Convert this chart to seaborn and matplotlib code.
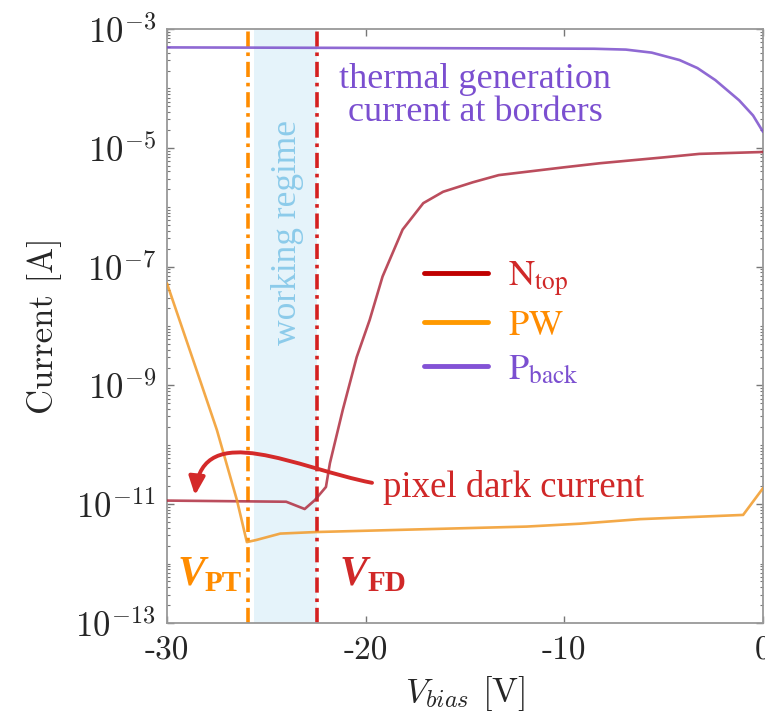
import numpy as np
import pandas as pd
import matplotlib
matplotlib.use("Agg")
import matplotlib.pyplot as plt
import seaborn as sns
from matplotlib.lines import Line2D
from matplotlib.patches import FancyArrowPatch
from matplotlib.path import Path
from matplotlib.ticker import LogLocator, NullFormatter, FixedLocator
from matplotlib.font_manager import FontProperties

# ---- I-V curves of the three contacts ----
v_ntop = [-30, -24.0, -23.07, -22.56, -22.0, -21.8, -21.15, -20.45, -19.8, -19.15,
          -18.14, -17.1, -16.1, -14.6, -13.3, -10, -8.2, -5, -3.2, 0]
i_ntop = [1.15e-11, 1.10e-11, 8.3e-12, 1.17e-11, 1.95e-11, 4.9e-11, 3.9e-10, 3.0e-9,
          1.26e-8, 6.8e-8, 4.2e-7, 1.17e-6, 1.82e-6, 2.63e-6, 3.47e-6, 4.7e-6,
          5.5e-6, 6.9e-6, 7.9e-6, 8.5e-6]

v_pw = [-30, -28.34, -27.49, -26.48, -25.98, -25.5, -24.3, -22.5, -11.9, -9.2, -6.2, -1.0, 0]
i_pw = [5.2e-8, 1.23e-9, 1.78e-10, 1.17e-11, 2.3e-12, 2.5e-12, 3.2e-12, 3.4e-12,
        4.2e-12, 4.7e-12, 5.6e-12, 6.6e-12, 1.86e-11]

v_pback = [-30, -20, -12, -8.5, -6.9, -5.6, -4.2, -3.3, -2.4, -1.2, -0.5, 0]
i_pback = [4.9e-4, 4.8e-4, 4.7e-4, 4.65e-4, 4.5e-4, 4.0e-4, 3.0e-4, 2.2e-4, 1.38e-4,
           6.3e-5, 3.5e-5, 1.86e-5]

series_names = ["N$_{top}$", "PW", "P$_{back}$"]
legend_labels = [r"$\mathrm{N}_{\mathrm{top}}$", r"$\mathrm{PW}$", r"$\mathrm{P}_{\mathrm{back}}$"]
line_colors = ["#B02E40", "#F29A28", "#7B4FCC"]
legend_colors = ["#C00000", "#FF9900", "#8352D6"]
text_colors = ["#D02828", "#FF8C00", "#7B4FD0"]

v_punch_through = -25.9
v_full_depletion = -22.45
regime = (-25.6, -22.45)

x_ticks = [-30, -20, -10, 0]
x_ticklabels = ["-30", "-20", "-10", "0"]
y_exponents = [-3, -5, -7, -9, -11, -13]

df = pd.concat([
    pd.DataFrame({"V": v_ntop, "I": i_ntop, "contact": series_names[0]}),
    pd.DataFrame({"V": v_pw, "I": i_pw, "contact": series_names[1]}),
    pd.DataFrame({"V": v_pback, "I": i_pback, "contact": series_names[2]}),
])

sns.set_theme(style="ticks")
plt.rcParams["mathtext.fontset"] = "cm"
plt.rcParams["axes.unicode_minus"] = False

fig = plt.figure(figsize=(7.65, 7.18), dpi=100)
ax = fig.add_axes([167 / 765, 1 - 623 / 718, 596 / 765, 594 / 718])

ax.axvspan(regime[0], regime[1], color="#E5F3FA", zorder=0, lw=0)

sns.lineplot(data=df, x="V", y="I", hue="contact", palette=dict(zip(series_names, line_colors)),
             sort=False, estimator=None, lw=1.9, alpha=0.85, legend=False, ax=ax, zorder=3)

ax.axvline(v_punch_through, color="#FF8C00", lw=2.6, ls=(0, (4.2, 1.6, 1.0, 1.6)), zorder=2)
ax.axvline(v_full_depletion, color="#D42020", lw=2.6, ls=(0, (4.2, 1.6, 1.0, 1.6)), zorder=2)

ax.set_yscale("log")
ax.set_xlim(-30, 0)
ax.set_ylim(1e-13, 1e-3)

ax.set_xticks(x_ticks)
ax.set_xticklabels(x_ticklabels, fontfamily="cmr10", fontsize=24)
ax.yaxis.set_major_locator(FixedLocator([10.0 ** e for e in y_exponents]))
ax.set_yticklabels([rf"$10^{{{e}}}$" for e in y_exponents], fontsize=25)
ax.yaxis.set_minor_locator(LogLocator(base=10, subs=np.arange(1, 10), numticks=100))
ax.yaxis.set_minor_formatter(NullFormatter())

ax.tick_params(which="both", direction="in", top=True, right=True, color="#777777")
ax.tick_params(which="major", length=5, width=1.0, pad=8)
ax.tick_params(which="minor", length=2.5, width=0.8)
ax.tick_params(axis="x", pad=10)
for s in ax.spines.values():
    s.set_color("#999999")
    s.set_linewidth(1.3)

ax.set_ylabel("Current [A]", fontfamily="cmr10", fontsize=25, labelpad=10)
ax.set_xlabel(r"$V_{bias}$ [V]", fontfamily="cmr10", fontsize=25, labelpad=6)

serif = "Liberation Serif"

# annotations
ax.text(0.517, 0.887, "thermal generation\ncurrent at borders", transform=ax.transAxes,
        ha="center", va="center", fontsize=26, family=serif, color=text_colors[2],
        linespacing=1.0)
ax.text(0.203, 0.657, "working regime", transform=ax.transAxes, rotation=90,
        ha="center", va="center", fontsize=25.5, family=serif, color="#8CCBEA")
ax.text(0.362, 0.212, "pixel dark current", transform=ax.transAxes,
        ha="left", va="baseline", fontsize=26.5, family=serif, color=text_colors[0])

for fx, col, sub in [(0.017, text_colors[1], "PT"), (0.290, text_colors[0], "FD")]:
    vt = ax.text(fx, 0.064, "V", transform=ax.transAxes, ha="left", va="baseline",
                 fontsize=30, family=serif, style="italic", weight="bold", color=col)
    ax.annotate(sub, xy=(1, 0), xycoords=vt, xytext=(0, -2), textcoords="offset points",
                ha="left", va="bottom", fontsize=21, family=serif, weight="bold", color=col)

# curved arrow pointing at the flat N_top dark current
verts = [(0.344, 0.236), (0.22, 0.26), (0.06, 0.345), (0.047, 0.215)]
codes = [Path.MOVETO, Path.CURVE4, Path.CURVE4, Path.CURVE4]
arrow = FancyArrowPatch(path=Path(verts, codes), arrowstyle="-|>,head_length=0.5,head_width=0.22",
                        mutation_scale=22, color="#D42A2A", lw=2.8, transform=ax.transAxes,
                        zorder=4)
ax.add_patch(arrow)

handles = [Line2D([], [], color=c, lw=3.5, solid_capstyle="round") for c in legend_colors]
leg = ax.legend(handles, legend_labels, loc="center left", bbox_to_anchor=(0.432, 0.505),
                frameon=False, handlelength=1.75, handletextpad=0.55, labelspacing=0.3,
                borderpad=0, borderaxespad=0,
                prop=FontProperties(family=serif, size=26, math_fontfamily="stix"))
for t, c in zip(leg.get_texts(), [text_colors[0], text_colors[1], text_colors[2]]):
    t.set_color(c)

fig.savefig("out.png", dpi=100)
